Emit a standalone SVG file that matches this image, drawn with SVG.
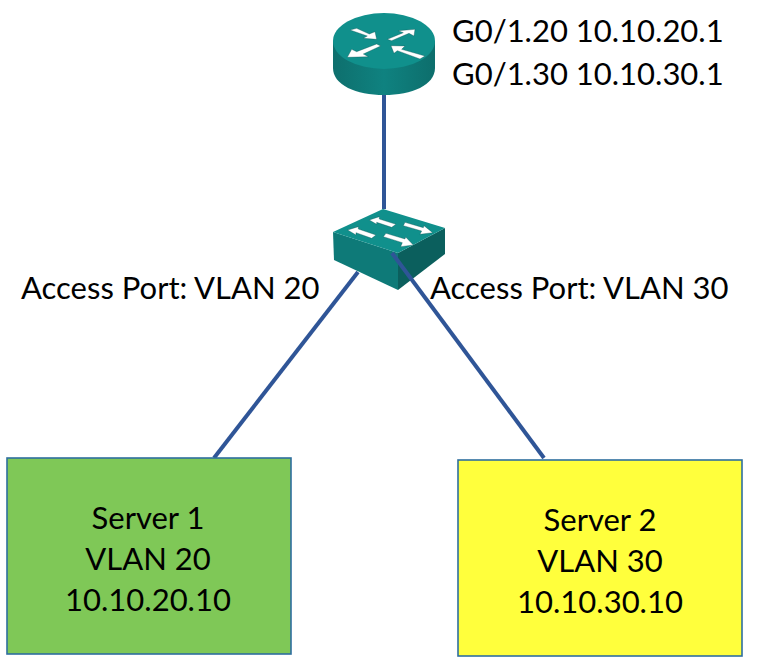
<svg xmlns="http://www.w3.org/2000/svg" width="758" height="662" viewBox="0 0 758 662">
<style>
text{font-family:"Lato","Open Sans","Liberation Sans",sans-serif;font-size:31px;fill:#000}
.c{text-anchor:middle}
.l{stroke:#2f5597;stroke-width:4;fill:none}
.a{fill:#fff;stroke:#0a4a48;stroke-width:1}
.box{stroke:#2f6f9f;stroke-width:1.6}
</style>
<defs>
<linearGradient id="cyl" x1="0" x2="1" y1="0" y2="0"><stop offset="0" stop-color="#0e6f6d"/><stop offset=".5" stop-color="#0f8280"/><stop offset="1" stop-color="#0d6e6c"/></linearGradient>
</defs>
<rect width="758" height="662" fill="#fff"/>
<g id="router">
<path d="M333 41V68C333 85 356 95 384 95S435 85 435 68V41Z" fill="url(#cyl)"/>
<ellipse cx="384" cy="41" rx="51" ry="28" fill="#10908c"/>
<g transform="translate(310 10) scale(.3333)">
<path class="a" d="M120 60L140 55L178 72L195 65L200 88L160 85L172 78Z"/>
<path class="a" d="M315 58L312 78L297 70L245 92L232 88L280 68L265 62Z"/>
<path class="a" d="M112 142L125 118L140 125L200 102L212 108L160 132L175 140Z"/>
<path class="a" d="M243 107L285 108L275 118L345 138L330 147L262 122L252 130Z"/>
</g>
</g>
<g id="switch">
<path d="M333 232L398 253V290L334 260Z" fill="#0e7a78"/>
<path d="M398 253L445 228V254L398 290Z" fill="#0b5f5d"/>
<path d="M383 209L445 228L398 253L333 232Z" fill="#10908c"/>
<g transform="translate(310 195) scale(.3333)">
<path class="a" d="M178 75L208 65L208 72L258 88L245 97L200 82L200 88Z"/>
<path class="a" d="M285 82L340 98L342 92L368 113L330 118L335 108L280 92Z"/>
<path class="a" d="M113 105L145 95L145 102L198 120L185 130L138 113L138 120Z"/>
<path class="a" d="M228 115L285 132L287 126L310 150L272 155L277 143L220 125Z"/>
</g>
</g>
<g id="connectors">
<line class="l" x1="384" y1="95" x2="384" y2="209"/>
<line class="l" x1="358" y1="272" x2="214" y2="458"/>
<line class="l" x1="392" y1="253" x2="544" y2="458"/>
</g>
<g id="server1">
<rect class="box" x="7" y="458" width="284" height="196" fill="#7fc857"/>
<text class="c" x="148" y="529">Server 1</text>
<text class="c" x="148" y="570">VLAN 20</text>
<text class="c" x="148" y="611">10.10.20.10</text>
</g>
<g id="server2">
<rect class="box" x="458" y="460" width="284" height="196" fill="#ffff3c"/>
<text class="c" x="600" y="531">Server 2</text>
<text class="c" x="600" y="572">VLAN 30</text>
<text class="c" x="600" y="613">10.10.30.10</text>
</g>
<g id="labels">
<text x="452" y="42">G0/1.20 10.10.20.1</text>
<text x="452" y="85">G0/1.30 10.10.30.1</text>
<text x="21" y="299">Access Port: VLAN 20</text>
<text x="430" y="299">Access Port: VLAN 30</text>
</g>
</svg>
